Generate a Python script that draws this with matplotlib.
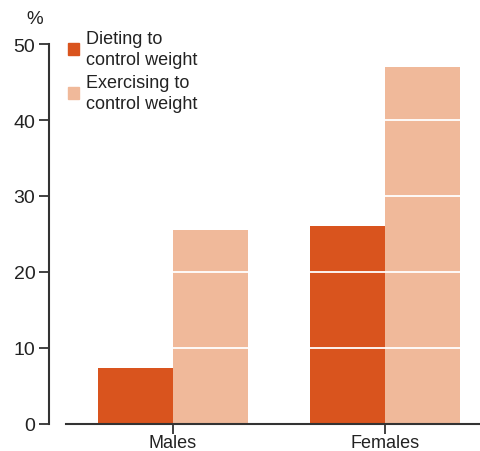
import matplotlib.pyplot as plt
from matplotlib.patches import Patch

categories = ["Males", "Females"]
dieting = [7.4, 26.0]
exercising = [25.5, 47.0]
series_labels = ["Dieting to\ncontrol weight", "Exercising to\ncontrol weight"]
yticks = [0, 10, 20, 30, 40, 50]

dietColor = "#D9541E"
exerColor = "#F0B99A"
lineColor = "#333333"

plt.rcParams['font.family'] = ['Liberation Sans', 'DejaVu Sans']

fig = plt.figure(figsize=(4.8, 4.52), dpi=100)
ax = fig.add_axes([66 / 480, 1 - 425 / 452, 1 - 66 / 480, 380 / 452])

w = 0.354
xs = list(range(len(categories)))
ax.bar([x - w / 2 for x in xs], dieting, width=w, color=dietColor, zorder=2)
ax.bar([x + w / 2 for x in xs], exercising, width=w, color=exerColor, zorder=2)

# white gridlines over bars
for t in yticks[1:-1]:
    ax.axhline(t, color="white", lw=1.3, zorder=3)

ax.set_xlim(-0.505, 1.448)
ax.set_ylim(0, 50)
ax.set_yticks(yticks)
ax.set_xticks(xs)
ax.set_xticklabels(categories)

for s in ["top", "right"]:
    ax.spines[s].set_visible(False)
ax.spines["left"].set_position(("outward", 12))
ax.spines["left"].set_color(lineColor)
ax.spines["bottom"].set_color(lineColor)
ax.spines["left"].set_linewidth(1.5)
ax.spines["bottom"].set_linewidth(1.5)
ax.tick_params(axis="y", length=7, width=1.3, color=lineColor, labelsize=14,
               labelcolor="#222222", pad=3)
ax.tick_params(axis="x", length=7, width=1.3, color=lineColor, labelsize=13,
               labelcolor="#222222", pad=0.5)

fig.text(35 / 480, 1 - 20 / 452, "%", fontsize=13.5, color="#222222",
         ha="center", va="center")

handles = [Patch(color=dietColor), Patch(color=exerColor)]
leg = fig.legend(handles, series_labels, loc="upper left",
                 bbox_to_anchor=(68 / 480, 1 - 31 / 452), frameon=False,
                 fontsize=13, handlelength=0.62, handleheight=0.62,
                 handletextpad=0.4, labelspacing=0.35, borderpad=0,
                 borderaxespad=0)
for t in leg.get_texts():
    t.set_color("#222222")
    t.set_linespacing(1.3)

fig.savefig("out.png", dpi=100)
